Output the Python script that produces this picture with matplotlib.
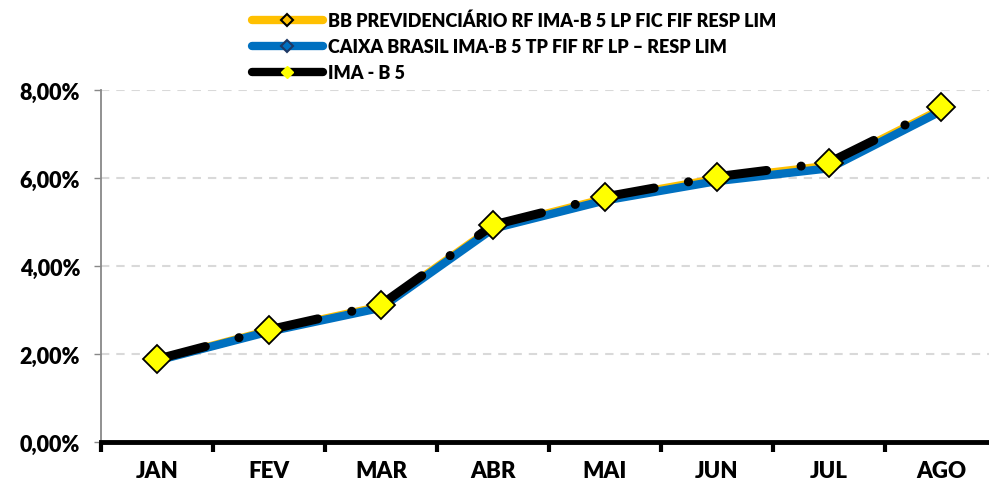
import matplotlib.pyplot as plt
from matplotlib.lines import Line2D
from matplotlib.ticker import FuncFormatter
import numpy as np

plt.rcParams['font.family'] = ['Lato', 'DejaVu Sans']
plt.rcParams['font.weight'] = 'heavy'
plt.rcParams['lines.scale_dashes'] = False

meses = ['JAN', 'FEV', 'MAR', 'ABR', 'MAI', 'JUN', 'JUL', 'AGO']
bb_prev = [1.86, 2.53, 3.08, 4.88, 5.53, 5.98, 6.28, 7.56]
caixa = [1.85, 2.51, 3.05, 4.85, 5.49, 5.93, 6.22, 7.52]
ima_b5 = [1.88, 2.55, 3.12, 4.93, 5.57, 6.03, 6.35, 7.61]

nomes = ['BB PREVIDENCIÁRIO RF IMA-B 5 LP FIC FIF RESP LIM',
         'CAIXA BRASIL IMA-B 5 TP FIF RF LP – RESP LIM',
         'IMA - B 5']

laranja = '#FFC000'
azul = '#0070C0'
amarelo = '#FFFF00'

fig = plt.figure(figsize=(9.89, 4.89), dpi=100)
ax = fig.add_axes([101 / 989, 1 - 443 / 489, 896 / 989, 352 / 489])

x = np.arange(len(meses))
ax.plot(x, bb_prev, color=laranja, lw=6, solid_capstyle='round', zorder=3)
ax.plot(x, caixa, color=azul, lw=6, solid_capstyle='round', zorder=4)
# o tracejado recomeça em cada trecho, como no Excel
for i in range(len(x) - 1):
    ax.plot(x[i:i + 2], ima_b5[i:i + 2], color='black', lw=6.5, dash_capstyle='round',
            ls=(0, (36, 25, 0.1, 25)), zorder=5)
ax.plot(x, ima_b5, ls='none', marker='D', ms=14, mfc=amarelo, mec='black', mew=1.3, zorder=6)

ax.set_xlim(-0.5, 7.5)
ax.set_ylim(0, 8)
ax.set_yticks([0, 2, 4, 6, 8])
ax.yaxis.set_major_formatter(FuncFormatter(lambda v, p: f'{v:.2f}%'.replace('.', ',')))
ax.grid(axis='y', color='#D9D9D9', ls=(0, (6, 5)), lw=1.5, zorder=1)

ax.set_xticks(x)
ax.set_xticklabels(meses)
ax.set_xticks(np.arange(-0.5, 8, 1), minor=True)
ax.tick_params(axis='x', which='major', length=0, pad=13, labelsize=16)
ax.tick_params(axis='x', which='minor', length=7, width=3, color='black', direction='out')
ax.tick_params(axis='y', length=5, width=1, color='#888888', labelsize=15.5, pad=10)

for s in ['top', 'right']:
    ax.spines[s].set_visible(False)
ax.spines['left'].set_color('#888888')
ax.spines['left'].set_linewidth(1.3)
ax.spines['bottom'].set_color('black')
ax.spines['bottom'].set_linewidth(3.5)
ax.spines['bottom'].set_zorder(7)

handles = [
    Line2D([], [], color=laranja, lw=6, solid_capstyle='round', marker='D', ms=6, mfc=laranja, mec='black', mew=1.5),
    Line2D([], [], color=azul, lw=6, solid_capstyle='round', marker='D', ms=6, mfc=azul, mec='#1F3864', mew=1.5),
    Line2D([], [], color='black', lw=6, solid_capstyle='round', marker='D', ms=6, mfc=amarelo, mec=amarelo, mew=1),
]
fig.legend(handles, nomes, loc='upper left', bbox_to_anchor=(236 / 989, 1.008), frameon=False,
           handlelength=3.9, handletextpad=0.3, labelspacing=0.5, prop={'size': 13, 'weight': 'heavy'})

fig.savefig('out.png', dpi=100)
